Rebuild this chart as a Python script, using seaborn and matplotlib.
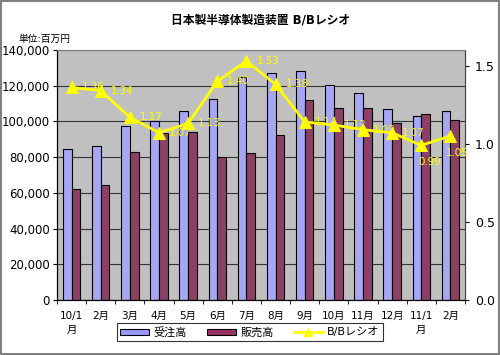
import numpy as np
import pandas as pd
import matplotlib
matplotlib.use('Agg')
import matplotlib.pyplot as plt
import seaborn as sns
from matplotlib.lines import Line2D
from matplotlib.patches import Patch, Rectangle

# values (unit: million yen)
months = ['10/1\n月', '2月', '3月', '4月', '5月', '6月', '7月', '8月',
          '9月', '10月', '11月', '12月', '11/1\n月', '2月']
orders = [84600, 86000, 97400, 100000, 106000, 112400, 125000, 127300,
          128200, 120200, 116000, 106800, 103200, 105700]
sales = [62200, 64400, 83000, 93500, 94000, 80200, 82300, 92400,
         112000, 107300, 107300, 99300, 104000, 100600]
ratio = [1.36, 1.34, 1.17, 1.07, 1.13, 1.40, 1.53, 1.38,
         1.14, 1.12, 1.09, 1.07, 0.99, 1.05]
ratio_labels = ['1.36', '1.34', '1.17', '1.07', '1.13', '1.40', '1.53', '1.38',
                '1.14', '1.12', '1.09', '1.07', '0.99', '1.05']

plt.rcParams['font.family'] = ['DejaVu Sans', 'Noto Sans CJK JP']

blue = '#9999FF'
plum = '#993366'
yellow = '#FFFF00'

df = pd.DataFrame({'pos': range(len(months)), '受注高': orders, '販売高': sales})
long = df.melt(id_vars='pos', var_name='series', value_name='value')

fig = plt.figure(figsize=(5, 3.55), dpi=100)
ax = fig.add_axes([57 / 500, 55 / 355, 408 / 500, 250 / 355])
ax.set_facecolor('#C0C0C0')

sns.barplot(data=long, x='pos', y='value', hue='series',
            palette=[blue, plum], width=0.6, gap=0,
            edgecolor='black', linewidth=0.8, errorbar=None,
            legend=False, ax=ax, zorder=2)

ax.set_ylim(0, 140000)
ax.set_yticks(range(0, 140001, 20000))
ax.set_yticklabels([f'{v:,}' for v in range(0, 140001, 20000)], fontsize=8.5)
ax.yaxis.grid(True, color='#333333', linewidth=0.8)
ax.set_axisbelow(True)
ax.set_xlim(-0.5, len(months) - 0.5)
ax.set_xticks(range(len(months)))
ax.set_xticklabels(months, fontsize=7.5, linespacing=1.5, va='top')
ax.set_xticks(np.arange(-0.5, len(months), 1), minor=True)
ax.tick_params(axis='x', which='major', length=0, pad=8)
ax.tick_params(axis='x', which='minor', length=3, color='black')
ax.tick_params(axis='y', length=3, pad=2)
ax.set_xlabel('')
ax.set_ylabel('')
for side in ['top', 'right']:
    ax.spines[side].set_color('#808080')
for side in ['left', 'bottom']:
    ax.spines[side].set_color('black')

ax2 = ax.twinx()
sns.lineplot(x=list(range(len(months))), y=ratio, ax=ax2, color=yellow,
             marker='^', markersize=8, markeredgecolor=yellow, linewidth=2)
ax2.set_ylim(0, 1.6)
ax2.set_yticks([0, 0.5, 1.0, 1.5])
ax2.set_yticklabels(['0.0', '0.5', '1.0', '1.5'], fontsize=9)
ax2.tick_params(axis='y', length=3, pad=4)
ax2.spines['right'].set_color('#404040')
ax2.spines['top'].set_color('#808080')
ax2.set_xlim(-0.5, len(months) - 0.5)

for i, (r, lab) in enumerate(zip(ratio, ratio_labels)):
    if lab == '0.99':
        off = (-3, -17)
    elif i == len(ratio) - 1:
        off = (-5, -17)
    else:
        off = (10, 0)
    ax2.annotate(lab, (i, r), xytext=off, textcoords='offset pixels',
                 ha='left', va='center', color=yellow, fontsize=7.4)

fig.text(261 / 500, 1 - 20 / 355, '日本製半導体製造装置 B/Bレシオ',
         ha='center', va='center', fontsize=8.5, fontweight='bold')
fig.text(18 / 500, 1 - 39 / 355, '単位:百万円', ha='left', va='center', fontsize=7)

handles = [Patch(facecolor=blue, edgecolor='black', linewidth=0.8),
           Patch(facecolor=plum, edgecolor='black', linewidth=0.8),
           Line2D([], [], color=yellow, marker='^', markersize=6, linewidth=2)]
leg = fig.legend(handles, ['受注高', '販売高', 'B/Bレシオ'], ncol=3,
                 loc='center', bbox_to_anchor=(250 / 500, 1 - 332 / 355),
                 fontsize=8, frameon=True, fancybox=False, edgecolor='black',
                 handlelength=2.6, handleheight=0.45, borderpad=0.3,
                 columnspacing=1.8, handletextpad=0.4)
leg.get_frame().set_linewidth(0.8)

fig.add_artist(Rectangle((0.002, 0.003), 0.995, 0.994, transform=fig.transFigure,
                         fill=False, edgecolor='#808080', linewidth=1.5))

fig.savefig('out.png', dpi=100)
